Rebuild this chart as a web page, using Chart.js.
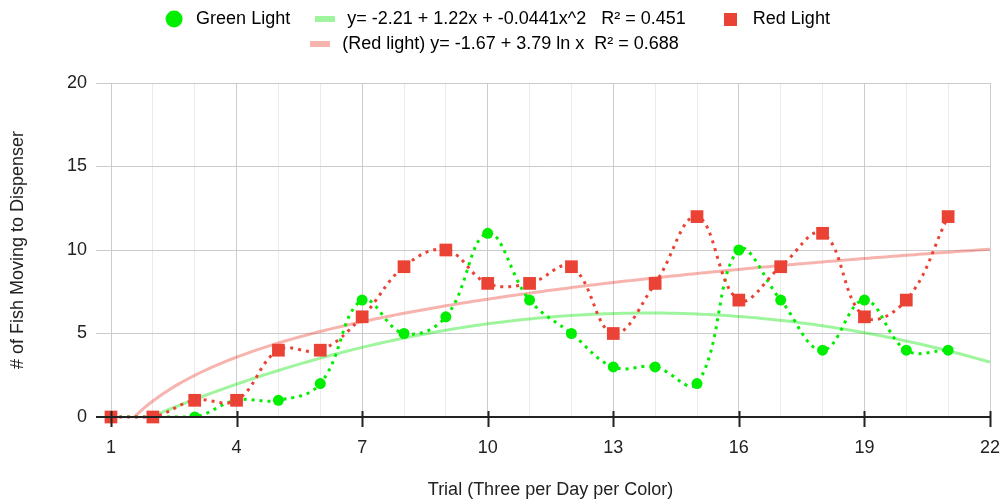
<!DOCTYPE html>
<html>
<head>
<meta charset="utf-8">
<script src="https://cdn.jsdelivr.net/npm/chart.js@4.4.0/dist/chart.umd.min.js"></script>
<style>
  html, body { margin: 0; padding: 0; background: #fff; }
</style>
</head>
<body>
<canvas id="chart" width="1001" height="504"></canvas>
<script>
// trial numbers and fish counts per trial
const trials = [1, 2, 3, 4, 5, 6, 7, 8, 9, 10, 11, 12, 13, 14, 15, 16, 17, 18, 19, 20, 21];
const greenLight = [0, 0, 0, 1, 1, 2, 7, 5, 6, 11, 7, 5, 3, 3, 2, 10, 7, 4, 7, 4, 4];
const redLight = [0, 0, 1, 1, 4, 4, 6, 9, 10, 8, 8, 9, 5, 8, 12, 7, 9, 11, 6, 7, 12];

// trendline coefficients as printed in the legend
const greenFit = [-2.21, 1.22, -0.0441];  // a + b x + c x^2
const redFit = [-1.67, 3.79];             // a + b ln x

const xTicks = [1, 4, 7, 10, 13, 16, 19, 22];
const yTicks = [0, 5, 10, 15, 20];
const legendTexts = [
    'Green Light',
    'y= -2.21 + 1.22x + -0.0441x^2   R² = 0.451',
    'Red Light',
    '(Red light) y= -1.67 + 3.79 ln x  R² = 0.688'
];
// extra spacing so the legend rows sit like the original
const legendGaps = ['   ', '     ', '  ', '   '];

const GREEN = '#00ee00';
const RED = '#ea4335';
const GREEN_TREND = 'rgba(0, 230, 0, 0.38)';
const RED_TREND = 'rgba(234, 67, 53, 0.4)';

// trend curves sampled along the x range
const trendX = [];
for (let x = 1; x <= 22.0001; x += 0.1) trendX.push(x);
const greenTrend = trendX.map(x => ({ x, y: greenFit[0] + greenFit[1] * x + greenFit[2] * x * x }));
const redTrend = trendX.map(x => ({ x, y: redFit[0] + redFit[1] * Math.log(x) }));

function marker(w, h, draw) {
    const c = document.createElement('canvas');
    c.width = w; c.height = h;
    draw(c.getContext('2d'));
    return c;
}
const legendMarkers = [
    marker(18, 18, g => { g.fillStyle = GREEN; g.beginPath(); g.arc(9, 9, 8.5, 0, Math.PI * 2); g.fill(); }),
    marker(20, 6, g => { g.fillStyle = GREEN_TREND; g.fillRect(0, 0, 20, 6); }),
    marker(13, 13, g => { g.fillStyle = RED; g.fillRect(0, 0, 13, 13); }),
    marker(20, 6, g => { g.fillStyle = RED_TREND; g.fillRect(0, 0, 20, 6); })
];

// black baseline with major tick marks crossing it
const baseline = {
    id: 'baseline',
    afterDatasetsDraw(chart) {
        const { ctx, scales: { x, y } } = chart;
        const y0 = Math.round(y.getPixelForValue(0));
        ctx.save();
        ctx.strokeStyle = '#222';
        ctx.lineWidth = 2;
        ctx.beginPath();
        ctx.moveTo(x.left - 15, y0);
        ctx.lineTo(x.right, y0);
        xTicks.forEach(v => {
            const px = Math.round(x.getPixelForValue(v)) + 0.5;
            ctx.moveTo(px, y0 - 6);
            ctx.lineTo(px, y0 + 10);
        });
        ctx.stroke();
        ctx.restore();
    }
};

Chart.defaults.font.family = '"Liberation Sans", Arial, sans-serif';
Chart.defaults.font.size = 18;
Chart.defaults.color = '#222';

new Chart(document.getElementById('chart'), {
    type: 'line',
    data: {
        datasets: [{
            label: legendTexts[0],
            data: trials.map((t, i) => ({ x: t, y: greenLight[i] })),
            borderColor: GREEN,
            backgroundColor: GREEN,
            borderWidth: 3,
            borderDash: [3, 5],
            tension: 0.4,
            pointStyle: 'circle',
            pointRadius: 5.5,
            pointBorderWidth: 0,
            order: 2
        }, {
            label: legendTexts[1],
            data: greenTrend,
            borderColor: GREEN_TREND,
            borderWidth: 3,
            pointRadius: 0,
            tension: 0,
            order: 3
        }, {
            label: legendTexts[2],
            data: trials.map((t, i) => ({ x: t, y: redLight[i] })),
            borderColor: RED,
            backgroundColor: RED,
            borderWidth: 3,
            borderDash: [3, 5],
            tension: 0.4,
            pointStyle: 'rect',
            pointRadius: 9,
            pointBorderWidth: 0,
            clip: false,
            order: 1
        }, {
            label: legendTexts[3],
            data: redTrend,
            borderColor: RED_TREND,
            borderWidth: 3,
            pointRadius: 0,
            tension: 0,
            order: 4
        }]
    },
    options: {
        responsive: false,
        animation: false,
        devicePixelRatio: 1,
        layout: { padding: { top: 3, right: 0, left: 0, bottom: 0 } },
        plugins: {
            tooltip: { enabled: false },
            title: {
                display: true,
                text: '',
                weight: 500,
                padding: 0,
                font: { size: 20, lineHeight: 1 }
            },
            legend: {
                position: 'top',
                labels: {
                    usePointStyle: true,
                    pointStyleWidth: 26,
                    padding: 7,
                    color: '#222',
                    font: { size: 18 },
                    generateLabels: chart => chart.data.datasets.map((ds, i) => ({
                        text: legendTexts[i] + legendGaps[i],
                        pointStyle: legendMarkers[i],
                        fillStyle: 'transparent',
                        strokeStyle: 'transparent',
                        lineWidth: 0,
                        hidden: false,
                        datasetIndex: i
                    }))
                }
            }
        },
        scales: {
            x: {
                type: 'linear',
                min: 1,
                max: 22,
                afterFit: s => { s.height = 87; s.paddingRight = 11; },
                border: { display: false },
                grid: {
                    color: c => xTicks.includes(c.tick.value) ? '#cccccc' : '#ebebeb',
                    tickColor: 'rgba(0,0,0,0)',
                    tickLength: 10
                },
                ticks: {
                    stepSize: 1,
                    autoSkip: false,
                    maxRotation: 0,
                    padding: 10,
                    color: '#222',
                    callback: v => xTicks.includes(v) ? String(v) : ''
                },
                title: {
                    display: true,
                    text: 'Trial (Three per Day per Color)',
                    color: '#222',
                    font: { size: 18 },
                    padding: { top: 0, bottom: 3 }
                }
            },
            y: {
                min: 0,
                max: 20,
                afterFit: s => { s.width = 111; },
                afterBuildTicks: s => { s.ticks = yTicks.map(v => ({ value: v })); },
                border: { display: false },
                grid: {
                    color: '#cccccc',
                    tickColor: '#cccccc',
                    tickLength: 15
                },
                ticks: {
                    padding: 9,
                    color: '#222'
                },
                title: {
                    display: true,
                    text: '# of Fish Moving to Dispenser',
                    color: '#222',
                    font: { size: 18 },
                    padding: { top: 7, bottom: 0 }
                }
            }
        }
    },
    plugins: [baseline]
});
</script>
</body>
</html>
